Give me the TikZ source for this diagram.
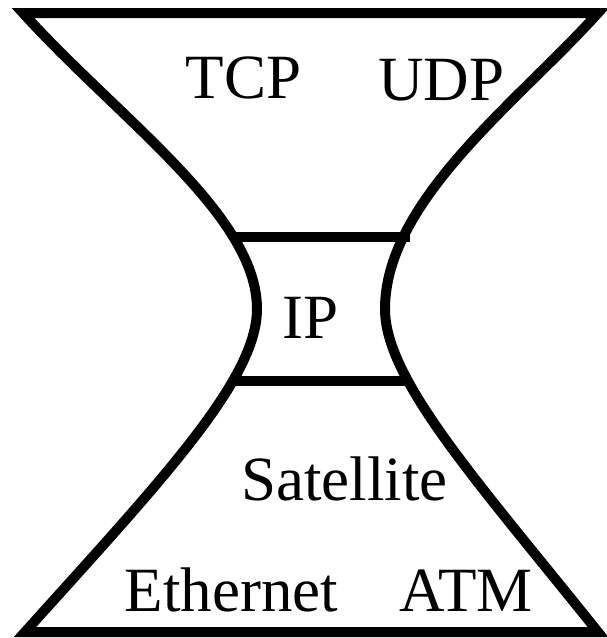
\documentclass[tikz,border=0pt]{standalone}
\usepackage{fontspec}
\setmainfont{Liberation Serif}
\newfontfamily\layerfont{Liberation Serif}
\usepackage{tikz}

\tikzset{layer/.style={inner sep=0pt,anchor=base,font=\layerfont\fontsize{63}{70}\selectfont}}

\begin{document}
\begin{tikzpicture}[x=1pt,y=-1pt,line width=10pt]
  \useasboundingbox (0,0) rectangle (607,638);
  \coordinate (tl) at (23,13); \coordinate (tr) at (598,13); \coordinate (bl) at (25,632); \coordinate (br) at (598,632);
  \coordinate (wl) at (257,309); \coordinate (wr) at (385,309);
  \draw (tl) -- (tr) .. controls (520,100) and (385,200) .. (wr) .. controls (385,380) and (478,482) .. (br)
    -- (bl) .. controls (160,482) and (257,380) .. (wl) .. controls (257,215) and (120,120) .. (tl) -- cycle;
  \draw (233,237) -- (410,237); \draw (235,381) -- (408,381);
  \node[layer] (tcp) at (243.5,98) {TCP}; \node[layer] (udp) at (441.5,100) {UDP};
  \node[layer] (ip) at (311,338) {IP};
  \node[layer] (sat) at (344.5,500) {Satellite};
  \node[layer] (eth) at (231.5,611) {Ethernet}; \node[layer] (atm) at (466,611) {ATM};
\end{tikzpicture}
\end{document}
